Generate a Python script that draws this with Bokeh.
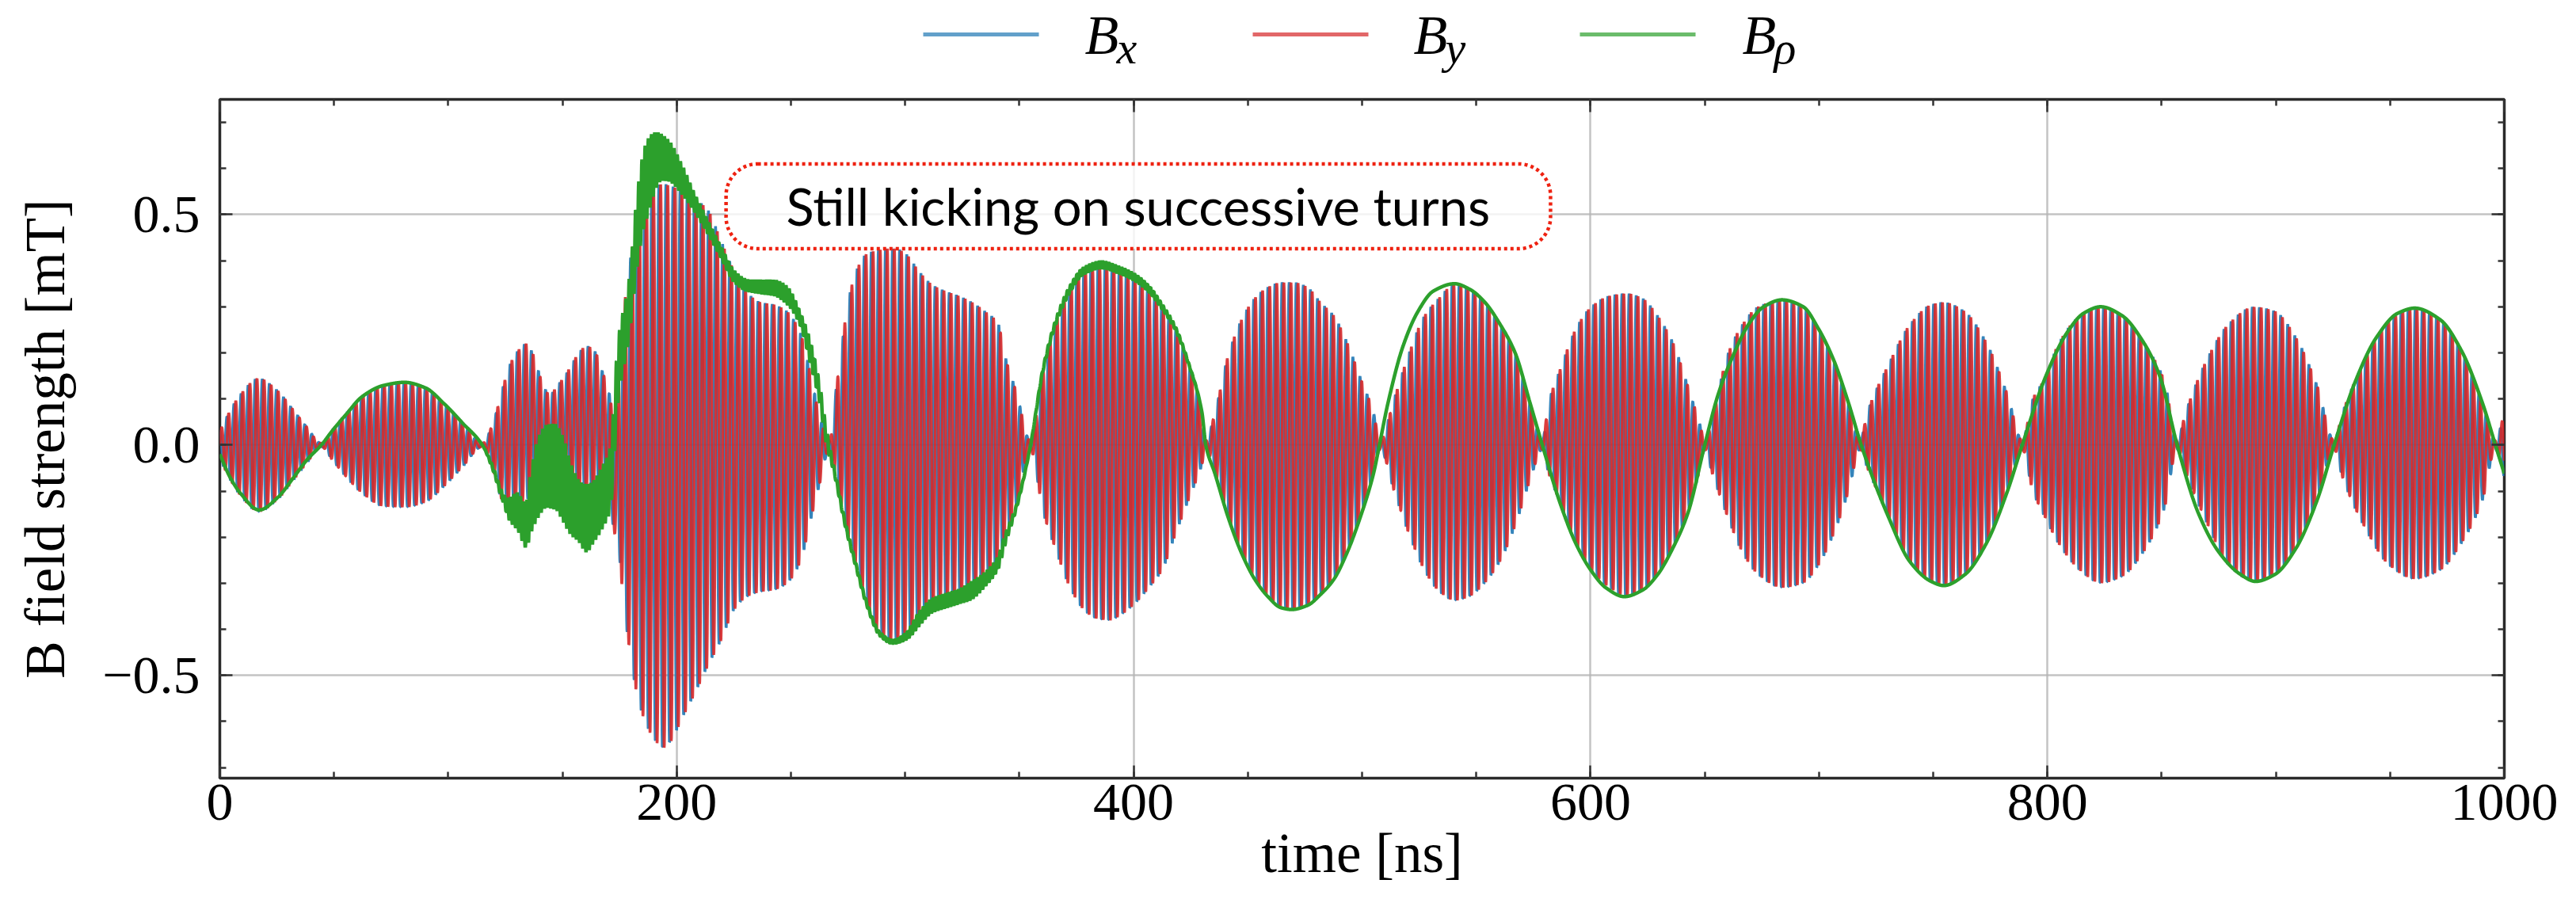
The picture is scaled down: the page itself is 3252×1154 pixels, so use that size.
import numpy as np
from bokeh.plotting import figure
from bokeh.models import Range1d, LinearAxis, FixedTicker, BoxAnnotation, Label
from bokeh.layouts import column
from bokeh.embed import file_html
from bokeh.resources import INLINE

# ---------------- data ----------------
# envelope of the B_x / B_y oscillation (time in ns, upper and lower edge in mT)
t_xy = [0, 4.5, 9, 17, 25, 32, 38, 44.4, 49.6, 55.4, 62.3, 71.5, 80.8, 90, 98.1, 106.2, 114.9,
        120, 123.6, 127, 130.5, 134, 137.4, 140.9, 144.4, 147.8, 151, 154, 157.1, 160.5, 164,
        167.5, 171, 172.7, 174.4, 176.2, 179, 182.5, 186, 190.6, 194.1, 197.6, 202.2, 208, 213.7,
        219.5, 225.3, 231.1, 236.8, 242.6, 248.4, 254.2, 258.8, 262.3, 266.9,
        269.2, 271.5, 275, 278.5, 283.1, 288.9, 294.6, 300.4, 306.2, 312, 317.8, 323.5, 329.3,
        335.1, 340.9, 343.2, 349, 354.7,
        360.5, 366.3, 372.1, 377.9, 383.6, 389.4, 395.2, 401, 406.8, 412.5, 418.3, 424.1, 429.9, 431.6,
        435.6, 441.4, 447.2, 453, 458.8, 464.5, 470.3, 476.1, 481.9, 487.7, 493.4, 499.2, 505, 507.9,
        514, 520.6, 527.2, 533.8, 540.5, 547.1, 553.7, 560.4, 567, 573.6, 578.9,
        581.6, 586.9, 593.6, 600.2, 608.2, 616.1, 622.7, 629.4, 636, 642.6, 648, 650,
        653.3, 660, 666.5, 673.2, 683.8, 693.1, 699.7, 706.3, 713, 718,
        721.2, 730.5, 739.8, 749.1, 754.6, 763.9, 773.2, 782.5, 789,
        793.6, 799.2, 804.8, 814.1, 823.3, 832.6, 841.9, 851.2, 856.8,
        860.5, 869.8, 879.1, 890.2, 899.5, 908.8, 918.1, 925.5,
        929.2, 938.5, 949.7, 960.8, 971.9, 981.2, 990.5, 996.1, 1000]
xy_upper = [0.03, 0.075, 0.11, 0.145, 0.12, 0.078, 0.04, 0.004, 0.035, 0.07, 0.105, 0.128, 0.135, 0.124, 0.09, 0.048, 0.004,
            0.055, 0.12, 0.175, 0.205, 0.22, 0.195, 0.14, 0.11, 0.13, 0.15, 0.175, 0.2, 0.215, 0.205,
            0.16, 0.1, 0.02, 0.15, 0.26, 0.38, 0.48, 0.54, 0.562, 0.567, 0.562, 0.553, 0.535, 0.51,
            0.443, 0.377, 0.33, 0.31, 0.305, 0.29, 0.243, 0.15, 0.07, 0.01,
            0.1, 0.186, 0.31, 0.377, 0.415, 0.424, 0.429, 0.415, 0.377, 0.348, 0.334, 0.324, 0.31,
            0.29, 0.262, 0.205, 0.11, 0.01,
            0.167, 0.272, 0.338, 0.377, 0.385, 0.39, 0.38, 0.362, 0.338, 0.3, 0.253, 0.176, 0.071, 0.01,
            0.071, 0.195, 0.272, 0.319, 0.343, 0.353, 0.353, 0.343, 0.31, 0.281, 0.224, 0.148, 0.071, 0.01,
            0.1, 0.2, 0.28, 0.32, 0.35, 0.338, 0.31, 0.262, 0.2, 0.09, 0.01,
            0.09, 0.167, 0.253, 0.3, 0.324, 0.329, 0.319, 0.281, 0.224, 0.129, 0.043, 0.01,
            0.06, 0.196, 0.262, 0.3, 0.315, 0.3, 0.253, 0.186, 0.09, 0.01,
            0.071, 0.176, 0.262, 0.305, 0.31, 0.29, 0.224, 0.11, 0.01,
            0.1, 0.148, 0.22, 0.28, 0.3, 0.281, 0.224, 0.14, 0.01,
            0.071, 0.186, 0.262, 0.3, 0.291, 0.234, 0.129, 0.01,
            0.071, 0.18, 0.27, 0.297, 0.272, 0.205, 0.09, 0.01, 0.07]
xy_lower = [-0.03, -0.075, -0.11, -0.145, -0.12, -0.078, -0.04, -0.004, -0.035, -0.07, -0.105, -0.133, -0.135, -0.124, -0.09, -0.048, -0.004,
            -0.06, -0.12, -0.13, -0.13, -0.12, -0.11, -0.1, -0.09, -0.09, -0.1, -0.1, -0.11, -0.11, -0.11,
            -0.08, -0.14, -0.19, -0.22, -0.315, -0.434, -0.54, -0.6, -0.643, -0.658, -0.643, -0.596, -0.54, -0.48,
            -0.424, -0.357, -0.329, -0.319, -0.315, -0.3, -0.253, -0.16, -0.09, -0.01,
            -0.06, -0.12, -0.2, -0.262, -0.343, -0.41, -0.427, -0.415, -0.377, -0.348, -0.338, -0.329, -0.315,
            -0.291, -0.253, -0.214, -0.129, -0.01,
            -0.148, -0.234, -0.31, -0.357, -0.377, -0.381, -0.367, -0.343, -0.31, -0.272, -0.195, -0.119, -0.043, -0.01,
            -0.062, -0.157, -0.234, -0.291, -0.329, -0.353, -0.357, -0.348, -0.324, -0.291, -0.234, -0.157, -0.062, -0.01,
            -0.1, -0.195, -0.272, -0.319, -0.338, -0.329, -0.3, -0.253, -0.176, -0.076, -0.01,
            -0.06, -0.129, -0.214, -0.272, -0.31, -0.329, -0.315, -0.281, -0.224, -0.148, -0.05, -0.01,
            -0.062, -0.157, -0.234, -0.281, -0.31, -0.3, -0.262, -0.195, -0.1, -0.01,
            -0.05, -0.157, -0.253, -0.296, -0.305, -0.281, -0.214, -0.1, -0.01,
            -0.1, -0.16, -0.214, -0.272, -0.3, -0.286, -0.234, -0.138, -0.01,
            -0.06, -0.17, -0.26, -0.296, -0.281, -0.224, -0.119, -0.01,
            -0.071, -0.176, -0.262, -0.291, -0.272, -0.214, -0.119, -0.01, -0.07]
carrier_period_ns = 3.1

# B_rho: signed envelope (centre of the green trace) and half width of its ripple band
t_rho = [0, 4.5, 9.1, 17.2, 25.3, 32.2, 38, 44.4, 49.6, 55.4, 62.3, 71.5, 80.8, 90, 98.1, 106.2, 114.9,
         119.5, 123.6, 127, 130, 134, 136.2, 139.7, 143.2, 146.7, 150.1, 153.6, 157.1, 160.5, 164, 167.5, 170.9,
         174.4, 179, 183.1, 186, 192.9, 196.4, 202.2, 208, 213.7, 219.5, 225.3, 231.1, 236.8, 242.6, 248.4,
         254.2, 258.8, 262.3, 265.7, 269.2, 273.8, 278.5, 283.1, 288.9, 294.6, 300.4, 306.2, 312, 317.8,
         323.5, 329.3, 335.1, 340.9, 343.2, 349, 354.7, 360.5, 366.3, 372.1, 377.9, 386, 392.9, 401, 406.8,
         412.5, 418.3, 424.1, 429.9, 431.6, 435.6, 441.4, 447.2, 453, 458.8, 464.5, 469.2, 476.1, 481.9,
         487.7, 493.4, 499.2, 505, 507.6, 511.3, 517.9, 524.6, 531.2, 540.5, 547.1, 553.7, 560.4, 567,
         573.6, 578.9, 586.9, 593.6, 600.2, 606.8, 614.8, 622.7, 629.4, 636, 642.6, 650, 655.9, 662.6,
         669.2, 675.8, 683.8, 693.1, 699.7, 706.3, 713, 718.5, 730.5, 739.8, 749.1, 754.6, 763.9, 773.2,
         782.5, 789, 799.2, 808.5, 815.9, 823.3, 832.6, 841.9, 849.3, 856.8, 866.1, 875.3, 884.6, 891.1,
         899.5, 908.8, 918.1, 925.5, 934.8, 944.1, 953.4, 960.8, 971.9, 981.2, 990.5, 996.1, 1000]
rho_mid = [-0.02, -0.07, -0.105, -0.141, -0.114, -0.071, -0.033, 0, 0.033, 0.067, 0.105, 0.129, 0.136, 0.124, 0.09, 0.048, 0,
           -0.05, -0.11, -0.14, -0.143, -0.174, -0.124, -0.068, -0.046, -0.047, -0.073, -0.117, -0.143, -0.159, -0.142, -0.113, -0.074,
           0.162, 0.291, 0.481, 0.562, 0.624, 0.617, 0.577, 0.524, 0.472, 0.417, 0.365, 0.346, 0.343, 0.341, 0.324,
           0.272, 0.195, 0.119, 0.014, -0.062, -0.172, -0.262, -0.343, -0.41, -0.427, -0.415, -0.377, -0.348, -0.338,
           -0.329, -0.315, -0.291, -0.253, -0.214, -0.129, -0.005, 0.167, 0.272, 0.338, 0.377, 0.391, 0.381, 0.362, 0.338,
           0.3, 0.253, 0.176, 0.071, 0, -0.062, -0.157, -0.234, -0.291, -0.329, -0.353, -0.357, -0.348, -0.324,
           -0.291, -0.234, -0.157, -0.062, 0, 0.09, 0.214, 0.291, 0.334, 0.35, 0.338, 0.31, 0.262, 0.2,
           0.09, 0, -0.129, -0.214, -0.272, -0.31, -0.329, -0.315, -0.281, -0.224, -0.148, 0, 0.11, 0.196,
           0.262, 0.3, 0.315, 0.3, 0.253, 0.186, 0.09, 0, -0.157, -0.253, -0.296, -0.305, -0.281, -0.214,
           -0.1, 0, 0.148, 0.243, 0.286, 0.3, 0.281, 0.224, 0.148, 0, -0.148, -0.234, -0.281, -0.296,
           -0.281, -0.224, -0.119, 0, 0.138, 0.234, 0.286, 0.297, 0.272, 0.205, 0.09, 0, -0.062]
t_ripple = [0, 114.9, 119.5, 123.6, 127, 130, 134, 136.2, 139.7, 143.2, 146.7, 150.1, 153.6, 157.1, 160.5, 164,
            167.5, 170.9, 174.4, 179, 183.1, 186, 192.9, 196.4, 202.2, 208, 213.7, 219.5, 225.3, 231.1, 236.8,
            242.6, 248.4, 254.2, 258.8, 262.3, 265.7, 269.2, 294.6, 300.4, 306.2, 312, 317.8, 323.5, 329.3,
            335.1, 340.9, 349, 354.7, 360.5, 377.9, 401, 418.3, 431.6, 1000]
rho_ripple = [0, 0, 0.004, 0.008, 0.026, 0.04, 0.05, 0.067, 0.087, 0.09, 0.093, 0.092, 0.078, 0.067, 0.074, 0.067,
              0.068, 0.068, 0.066, 0.062, 0.08, 0.085, 0.052, 0.045, 0.033, 0.02, 0.015, 0.013, 0.013, 0.013, 0.015,
              0.017, 0.02, 0.015, 0.025, 0.021, 0.016, 0.006, 0.004, 0.008, 0.016, 0.016, 0.016, 0.016, 0.02,
              0.016, 0.014, 0.004, 0.001, 0.004, 0.008, 0.008, 0.004, 0, 0]
ripple_period_ns = 1.4

x_ticks = [0, 200, 400, 600, 800, 1000]
x_tick_labels = ["0", "200", "400", "600", "800", "1000"]
y_ticks = [-0.5, 0.0, 0.5]
y_tick_labels = ["\u22120.5", "0.0", "0.5"]
series_labels = ["x", "y", "\u03c1"]
series_colors = ["#1f77b4", "#d62728", "#2ca02c"]
annotation_text = "Still kicking on successive turns"

assert len(t_xy) == len(xy_upper) == len(xy_lower)
assert len(t_rho) == len(rho_mid)
assert len(t_ripple) == len(rho_ripple)


def pchip(xk, yk, xq):
    xk = np.asarray(xk, float)
    yk = np.asarray(yk, float)
    h = np.diff(xk)
    d = np.diff(yk) / h
    m = np.zeros_like(yk)
    for k in range(1, len(xk) - 1):
        if d[k - 1] * d[k] > 0:
            w1 = 2 * h[k] + h[k - 1]
            w2 = h[k] + 2 * h[k - 1]
            m[k] = (w1 + w2) / (w1 / d[k - 1] + w2 / d[k])
    m[0] = d[0]
    m[-1] = d[-1]
    i = np.clip(np.searchsorted(xk, xq, side="right") - 1, 0, len(xk) - 2)
    s = (xq - xk[i]) / h[i]
    h00 = 2 * s**3 - 3 * s**2 + 1
    h10 = s**3 - 2 * s**2 + s
    h01 = -2 * s**3 + 3 * s**2
    h11 = s**3 - s**2
    return h00 * yk[i] + h10 * h[i] * m[i] + h01 * yk[i + 1] + h11 * h[i] * m[i + 1]


t = np.linspace(0, 1000, 10001)
up = pchip(t_xy, xy_upper, t)
lo = pchip(t_xy, xy_lower, t)
mid = 0.5 * (up + lo)
half = 0.5 * (up - lo)
ph = 2 * np.pi * t / carrier_period_ns
bx = mid + half * np.cos(ph)
by = mid + half * np.sin(ph)
brho = pchip(t_rho, rho_mid, t) + pchip(t_ripple, rho_ripple, t) * np.cos(2 * np.pi * t / ripple_period_ns)

# ---------------- layout (page has no margin: figure px == page px) ----------------
FW, FH = 2884, 857
BL, BR, BT, BB = 277, 91, 30, 166
LEG_H = 95
SERIF = "Liberation Serif"

p = figure(frame_width=FW, frame_height=FH, x_range=Range1d(0, 1000), y_range=Range1d(-0.723, 0.75),
           output_backend="svg", toolbar_location=None,
           min_border_left=BL, min_border_right=BR, min_border_top=BT, min_border_bottom=BB,
           x_axis_label="time [ns]", y_axis_label="B field strength [mT]")
p.background_fill_color = "white"
p.border_fill_color = "white"
p.outline_line_color = "#2a2a2a"
p.outline_line_width = 3.5

x_minor = [v for v in range(0, 1001, 50)]
y_minor = [round(-0.7 + 0.1 * k, 1) for k in range(15)]
xticker = FixedTicker(ticks=x_ticks, minor_ticks=x_minor)
yticker = FixedTicker(ticks=y_ticks, minor_ticks=y_minor)


def style_axis(ax, show):
    ax.axis_line_color = None
    ax.major_tick_in = 16
    ax.major_tick_out = 0
    ax.minor_tick_in = 8
    ax.minor_tick_out = 0
    ax.major_tick_line_color = "#333333"
    ax.minor_tick_line_color = "#333333"
    ax.major_tick_line_width = 2.5
    ax.minor_tick_line_width = 2.5
    ax.major_label_text_font = SERIF
    ax.major_label_text_color = "black"
    ax.axis_label_text_font = SERIF
    ax.axis_label_text_font_size = "71px"
    ax.axis_label_text_font_style = "normal"
    ax.axis_label_text_color = "black"
    if show:
        ax.major_label_text_font_size = "68px"
    else:
        ax.major_label_text_font_size = "1px"
        ax.major_label_text_alpha = 0
        ax.major_label_standoff = 0


xa = p.xaxis[0]
xa.ticker = xticker
style_axis(xa, True)
xa.major_label_overrides = {v: s for v, s in zip(x_ticks, x_tick_labels)}
xa.major_label_standoff = 8
xa.axis_label_standoff = 0

ya = p.yaxis[0]
ya.ticker = yticker
style_axis(ya, True)
ya.major_label_overrides = {v: s for v, s in zip(y_ticks, y_tick_labels)}
ya.major_label_standoff = 25
ya.axis_label_standoff = 30

top = LinearAxis(ticker=xticker)
style_axis(top, False)
p.add_layout(top, "above")
right = LinearAxis(ticker=yticker)
style_axis(right, False)
p.add_layout(right, "right")

p.xgrid.ticker = xticker
p.ygrid.ticker = yticker
p.grid.grid_line_color = "#b4b4b4"
p.grid.grid_line_width = 2.5
p.grid.grid_line_alpha = 0.8
p.grid.minor_grid_line_color = None

p.line(t, bx, line_color=series_colors[0], line_width=3.5, line_alpha=0.9)
p.line(t, by, line_color=series_colors[1], line_width=3.5, line_alpha=0.9)
p.line(t, brho, line_color=series_colors[2], line_width=4.5, line_alpha=1.0)

box = BoxAnnotation(left=221.6, right=582.5, bottom=0.426, top=0.61,
                    fill_color="white", fill_alpha=0.8,
                    line_color="#ee2211", line_alpha=1.0, line_width=4.5, line_dash="4 4", border_radius=40)
p.add_layout(box)
# text centred (middle baseline) in the box
p.add_layout(Label(x=402, y=0.518, text=annotation_text, text_align="center", text_baseline="middle",
                   text_font="Lato", text_font_size="65px", text_color="black"))

# ---------------- legend strip above the plot (same side borders as the plot) ----------------
# y coordinate of this strip counts upward from its bottom edge (page y = LEG_H - y)
lg = figure(frame_width=FW, frame_height=LEG_H, x_range=Range1d(BL, BL + FW), y_range=Range1d(0, LEG_H),
            output_backend="svg", toolbar_location=None,
            min_border_left=BL, min_border_right=BR, min_border_top=0, min_border_bottom=0,
            x_axis_location=None, y_axis_location=None)
lg.outline_line_color = None
lg.grid.visible = False
lg.background_fill_color = "white"
lg.border_fill_color = "white"

line_x0 = [1165, 1581, 1994]
lg.segment(x0=line_x0, y0=[LEG_H - 43] * 3, x1=[x + 146 for x in line_x0], y1=[LEG_H - 43] * 3,
           line_color=series_colors, line_width=5, line_alpha=0.7)
b_x = [1369, 1784, 2199]
for bx_pos, sub in zip(b_x, series_labels):
    lg.add_layout(Label(x=bx_pos, y=LEG_H - 44, text="B", text_font=SERIF, text_font_style="italic",
                        text_font_size="70px", text_baseline="middle", text_align="left",
                        text_color="black"))
    lg.add_layout(Label(x=bx_pos + 40, y=LEG_H - 60, text=sub, text_font=SERIF, text_font_style="italic",
                        text_font_size="58px", text_baseline="middle", text_align="left",
                        text_color="black"))

layout = column(lg, p, spacing=0)
open("out.html", "w").write(file_html(layout, INLINE))
